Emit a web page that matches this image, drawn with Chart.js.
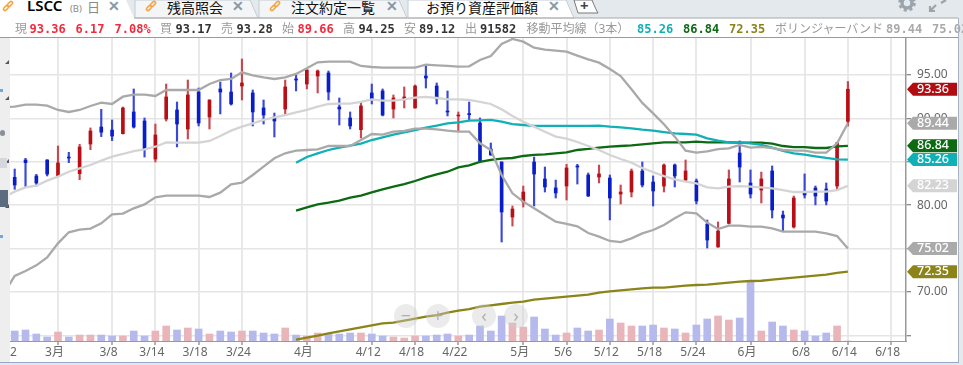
<!DOCTYPE html>
<html>
<head>
<meta charset="utf-8">
<script src="https://cdn.jsdelivr.net/npm/chart.js@4/dist/chart.umd.min.js"></script>
<style>
html, body { margin: 0; padding: 0; background: #e4e9ed; overflow: hidden; }
#wrap { position: relative; width: 963px; height: 365px; font-family: "Noto Sans", "Noto Sans CJK JP", sans-serif; }
#panel { position: absolute; left: 0; top: 18px; width: 958px; height: 344px; background: #fff; }
#edge { position: absolute; left: 958px; top: 18px; width: 1px; height: 345px; background: #a9b3c4; }
#foot { position: absolute; left: 0; top: 362px; width: 959px; height: 1px; background: #9aa6c4; }
canvas { position: absolute; left: 0; top: 0; }
#gutter { position: absolute; left: 0; top: 38px; width: 10px; height: 324px; background: #eee; overflow: hidden; }
#gutter i { position: absolute; left: 5px; width: 0; height: 0; border-left: 4px solid transparent; border-bottom: 4px solid #556; }
#gutter b { position: absolute; left: 0; }
#rule { position: absolute; left: 0; top: 37px; width: 958px; height: 1px; background: #9a9a9a; }
#head span { position: absolute; top: 21px; font-size: 12px; line-height: 16px; white-space: nowrap; color: #999; }
#head span.n { font-family: "DejaVu Sans Mono", monospace; font-weight: bold; }
#tabs span { position: absolute; top: -2px; font-size: 14px; line-height: 19px; color: #111; white-space: nowrap; }
#tabs span.x { color: #8a98a4; font-weight: bold; font-size: 14px; top: -4px; }
.round { position: absolute; top: 304px; width: 24px; height: 24px; border-radius: 12px; background: rgba(205,205,205,.4); color: rgba(170,170,170,.9); font-size: 18px; line-height: 23px; text-align: center; }
#left2 { position: absolute; left: 10px; top: 344px; font-size: 12px; line-height: 16px; color: #666; }
</style>
</head>
<body>
<div id="wrap">
  <div id="panel"></div>
  <svg style="position:absolute;left:0;top:0" width="963" height="19">
    <path d="M0 0H126L134 18H0Z" fill="#fff"/>
    <path d="M135 0H250L258 18H135Z" fill="#f3f5f7" stroke="#c4ccd3"/>
    <path d="M259 0H399L407 18H259Z" fill="#f3f5f7" stroke="#c4ccd3"/>
    <path d="M408 0H566L574 18H408Z" fill="#fff" stroke="#c4ccd3"/>
    <path d="M574 0H592Q596 10 598 13Q596 13 594 13H578Z" fill="#fff" stroke="#777"/>
    <path d="M0 18H134" stroke="#fff"/><path d="M134 18H958" stroke="#a8a8a8"/>
    <g fill="none" stroke="#f5a545" stroke-width="1.6">
      <rect x="-3" y="-1.5" width="6" height="3" rx="1.5" transform="translate(10 4) rotate(-45)"/>
      <rect x="-3" y="-1.5" width="6" height="3" rx="1.5" transform="translate(6 8) rotate(-45)"/>
      <rect x="-3" y="-1.5" width="6" height="3" rx="1.5" transform="translate(153 4) rotate(-45)"/>
      <rect x="-3" y="-1.5" width="6" height="3" rx="1.5" transform="translate(149 8) rotate(-45)"/>
      <rect x="-3" y="-1.5" width="6" height="3" rx="1.5" transform="translate(277 4) rotate(-45)"/>
      <rect x="-3" y="-1.5" width="6" height="3" rx="1.5" transform="translate(273 8) rotate(-45)"/>
    </g>
    <g stroke="#9aa4ac" fill="none">
      <circle cx="907" cy="3" r="5" stroke-width="3.4"/>
      <circle cx="907" cy="3" r="7.5" stroke-width="2.6" stroke-dasharray="3 3"/>
      <path d="M930 11L936 5M930 6V11H935M941 3L946 0" stroke-width="2.2"/>
    </g>
  </svg>
  <div id="tabs">
    <span style="left:27px;top:-4px;font-weight:600;font-size:15px;color:#000">LSCC</span>
    <span style="left:70px;top:-1px;font-size:9.5px;color:#8a8a8a">(B)</span>
    <span style="left:87px;color:#8a8a8a;font-size:13px">日</span>
    <span class="x" style="left:108px">✕</span>
    <span style="left:167px">残高照会</span><span class="x" style="left:232px">✕</span>
    <span style="left:291px">注文約定一覧</span><span class="x" style="left:386px">✕</span>
    <span style="left:426px">お預り資産評価額</span><span class="x" style="left:548px">✕</span>
    <span style="left:580px;top:-4px;font-weight:bold;font-size:15px;color:#444">+</span>
  </div>
  <canvas id="chart" width="963" height="365"></canvas>
  <div id="rule"></div>
  <div id="gutter">
    <i style="top:22px"></i><i style="top:58px"></i><i style="top:121px"></i><i style="top:166px"></i>
    <b style="top:51px;width:3px;height:3px;background:#6fa8dc"></b>
    <b style="top:92px;width:5px;height:6px;border-radius:3px;background:#8a9099"></b>
    <b style="top:120px;width:7px;height:10px;background:#d4d8dc"></b>
    <b style="top:152px;width:8px;height:17px;background:#5b6b80"></b>
    <b style="top:197px;width:3px;height:3px;background:#6fa8dc"></b>
  </div>
  <div id="left2">2</div>
  <div class="round" style="left:394px">−</div>
  <div class="round" style="left:426px">+</div>
  <div class="round" style="left:472px">‹</div>
  <div class="round" style="left:504px">›</div>
  <div id="head"></div>
  <div id="edge"></div>
  <div id="foot"></div>
</div>
<script>
// candles, one per trading day, oldest first
const opens = [83.21,85.21,83.37,85.21,83.40,85.55,83.63,87.05,89.01,88.66,88.24,90.74,89.70,85.32,89.93,90.97,88.78,93.04,90.16,93.39,93.04,93.73,92.93,91.20,90.16,91.08,94.54,93.96,94.88,95.23,91.31,90.05,88.70,92.93,93.16,91.08,92.24,91.20,94.88,93.73,90.85,90.28,90.55,89.47,86.48,84.98,78.64,80.37,84.98,83.02,81.99,82.21,84.52,83.48,83.25,83.13,81.29,81.52,83.94,82.67,82.21,84.63,82.90,82.79,77.83,75.19,77.91,86.01,82.56,81.75,83.94,78.87,77.49,81.41,81.98,81.87,82.21,89.66]
const highs = [84.17,85.40,83.56,85.25,86.82,86.09,87.01,88.90,91.04,89.82,91.31,93.39,90.05,89.35,93.96,91.89,94.42,93.50,92.15,94.19,95.23,96.84,93.27,92.12,90.62,94.42,95.00,95.60,95.58,95.46,92.35,90.74,91.77,93.96,93.39,92.70,93.62,93.85,96.15,94.08,93.16,90.74,91.89,90.05,87.17,85.00,79.91,82.21,85.55,84.40,82.90,84.71,84.71,83.71,84.63,83.48,82.33,84.17,84.98,83.37,84.75,84.75,85.21,83.02,78.30,78.07,84.06,87.40,84.06,83.82,84.52,79.33,81.06,83.60,82.21,82.56,87.25,94.25]
const lows = [81.83,82.06,82.21,83.37,83.37,84.90,82.94,86.40,87.90,87.44,88.20,88.89,85.55,84.98,89.70,86.71,87.63,89.13,88.78,90.51,91.54,92.12,89.13,89.35,87.86,90.51,93.16,93.39,92.93,92.12,89.24,88.78,87.74,91.66,90.28,90.05,91.20,91.18,93.50,91.66,90.28,88.55,89.82,85.05,85.75,75.76,77.60,79.79,79.91,81.52,80.83,80.60,82.44,81.00,82.56,78.30,80.14,80.95,82.10,79.91,81.52,82.10,82.79,80.14,75.07,75.15,77.83,82.67,80.83,80.25,78.53,77.03,77.37,80.83,80.04,80.04,81.75,89.12]
const closes = [82.33,84.90,82.56,83.59,84.87,85.44,86.71,88.55,88.41,87.97,91.20,89.01,86.51,88.09,92.47,89.35,92.70,89.47,92.12,93.04,91.66,94.08,90.74,90.39,89.70,93.62,94.42,95.58,95.46,93.04,91.08,89.13,91.43,92.12,90.39,92.35,92.47,93.73,94.65,92.24,90.74,90.39,90.43,85.09,85.79,79.22,79.56,81.52,83.59,82.10,81.41,84.29,84.40,81.06,83.60,80.83,81.52,83.94,82.33,81.64,84.63,83.37,83.94,80.48,75.99,77.03,83.02,84.40,81.29,83.02,79.45,78.53,80.83,81.18,81.06,80.48,87.19,93.36]
const volumes = [1000,1100,700,400,900,400,600,600,600,500,500,1000,500,1000,1500,1100,1300,1200,700,1000,900,1000,1000,800,700,1300,600,500,800,700,700,800,800,700,500,400,300,500,500,600,700,500,600,1500,1000,2500,1800,1400,2400,1200,600,800,1300,1000,1100,2200,1800,1500,1500,1600,1300,1200,800,1600,2200,2500,2100,2300,6000,1000,1900,1500,1100,1000,500,800,1500,0]

// bollinger bands, these start one day before the first candle
const upperBand = [91.30,91.35,91.58,91.58,91.47,90.97,90.74,90.97,91.43,91.81,91.66,92.50,92.73,92.73,92.58,93.27,93.27,93.27,93.27,93.96,94.42,94.54,95.31,94.96,94.73,94.54,94.73,95.12,95.77,96.46,96.54,96.54,96.54,96.04,95.92,95.84,95.84,95.84,95.84,96.19,96.11,96.04,95.96,96.00,96.73,97.19,98.57,99.15,98.84,98.15,97.92,97.80,97.69,97.23,96.80,96.42,95.69,94.88,93.35,91.78,90.58,89.32,87.90,86.28,86.05,86.21,86.47,86.55,86.94,86.63,86.71,86.59,86.36,86.28,86.28,86.05,86.05,87.13,89.44]
const midBand = [80.91,81.56,82.06,82.25,82.83,83.29,83.86,84.25,84.63,85.13,85.59,85.90,86.24,86.44,86.74,87.24,87.20,87.20,87.20,87.40,87.97,88.59,89.05,89.43,89.82,90.12,90.39,90.70,90.97,91.35,91.66,91.70,91.70,91.89,92.20,92.04,92.04,92.20,92.39,92.47,92.35,92.20,92.20,92.12,91.89,91.66,91.04,90.28,89.62,89.05,88.47,87.90,87.67,87.28,86.82,86.36,85.78,85.32,84.90,84.29,83.82,83.36,82.98,82.71,82.52,82.06,81.94,82.14,82.21,82.14,82.06,81.94,81.75,81.52,81.52,81.56,81.56,81.75,82.23]
const lowerBand = [69.85,71.85,72.42,73.07,73.99,75.61,76.88,77.18,77.30,77.91,78.95,79.03,79.64,80.10,80.91,81.10,81.10,81.10,81.10,80.95,81.45,82.41,82.60,83.48,84.44,85.40,85.98,86.28,86.36,86.44,86.82,86.82,86.82,87.51,88.20,88.13,88.47,88.55,88.82,88.82,88.74,88.59,88.47,88.47,87.13,86.36,83.48,81.37,80.41,79.64,78.87,78.10,77.84,77.57,76.80,76.38,75.88,75.76,76.18,76.76,77.14,77.72,78.49,79.18,79.06,77.99,77.26,77.64,77.64,77.53,77.53,77.34,76.95,76.95,76.95,76.95,76.76,76.45,75.02]

// moving averages, these start at candle 26
const maStart = 26
const maShort = [84.90,85.55,85.98,86.36,86.63,86.86,87.09,87.51,87.82,88.13,88.40,88.66,88.93,89.16,89.43,89.55,89.74,89.78,89.82,89.62,89.35,89.24,89.13,89.13,89.13,89.13,89.13,89.13,89.16,89.05,88.97,88.86,88.70,88.59,88.43,88.28,88.20,88.13,87.70,87.44,87.24,87.20,87.13,86.94,86.63,86.25,85.98,85.82,85.63,85.44,85.28,85.26]
const maMid = [79.37,79.76,80.10,80.29,80.52,80.87,81.10,81.48,81.83,82.14,82.44,82.79,83.21,83.56,83.86,84.36,84.59,84.98,85.21,85.36,85.44,85.67,85.79,85.86,85.98,86.09,86.36,86.48,86.63,86.74,86.82,86.90,87.01,87.13,87.24,87.24,87.24,87.32,87.24,87.24,87.24,87.20,87.20,87.20,87.09,86.82,86.70,86.70,86.59,86.59,86.78,86.84]
const maLong = [64.51,64.74,64.97,65.24,65.47,65.70,65.93,66.16,66.39,66.47,66.70,66.93,67.16,67.35,67.62,67.85,68.04,68.31,68.47,68.62,68.77,68.89,69.12,69.23,69.35,69.46,69.58,69.69,69.92,70.08,70.19,70.31,70.42,70.50,70.50,70.62,70.73,70.81,70.85,70.96,71.08,71.19,71.27,71.30,71.42,71.54,71.65,71.77,71.88,72.00,72.20,72.35]

// axes
const tickIndex = [4,9,13,17,21,27,33,37,41,47,51,55,59,63,68,73,77,81]
const tickNames = ["3月","3/8","3/14","3/18","3/24","4月","4/12","4/18","4/22","5月","5/6","5/12","5/18","5/24","6月","6/8","6/14","6/18"]
const priceTicks = [65,70,75,80,85,90,95]

// price tags on the right
const tagValues = [75.02,72.35,82.23,85.26,86.84,89.44,93.36]
const tagColors = ["#aaaaaa","#8c8418","#d4d4d4","#10b0b6","#0b6a12","#aaaaaa","#b00c12"]

const BLUE = "#0a1ec8", RED = "#b80e16"
const isUp = i => closes[i] >= opens[i]

const tagsPlugin = {
    id: "tags",
    afterDraw(chart) {
        const ctx = chart.ctx, y = chart.scales.y
        ctx.save()
        ctx.font = "500 12.5px 'Noto Sans'"
        ctx.textBaseline = "middle"
        tagValues.forEach((v, i) => {
            const py = y.getPixelForValue(v)
            ctx.fillStyle = tagColors[i]
            ctx.beginPath()
            ctx.moveTo(907, py)
            ctx.lineTo(913, py - 6.5)
            ctx.lineTo(957, py - 6.5)
            ctx.lineTo(957, py + 6.5)
            ctx.lineTo(913, py + 6.5)
            ctx.closePath()
            ctx.fill()
            ctx.fillStyle = "#fff"
            ctx.fillText(v.toFixed(2), 917, py)
        })
        ctx.restore()
    }
}

const lineSet = (data, start, color) => ({
    type: "line",
    data: data.map((v, i) => ({x: i + start, y: v})),
    borderColor: color,
    borderWidth: 2.3,
    pointRadius: 0,
    tension: 0,
    order: 1
})

new Chart(document.getElementById("chart").getContext("2d"), {
    type: "bar",
    data: {
        datasets: [
            {
                data: volumes.map((v, i) => ({x: i, y: v})),
                yAxisID: "vol",
                grouped: false,
                barThickness: 7,
                backgroundColor: volumes.map((v, i) => isUp(i) ? "#e8b6ba" : "#b5b9ec"),
                order: 5
            },
            {
                data: highs.map((h, i) => ({x: i, y: [lows[i], h]})),
                grouped: false,
                barThickness: 1.5,
                backgroundColor: highs.map((h, i) => isUp(i) ? "#c9484f" : "#3a48d8"),
                order: 4
            },
            {
                data: opens.map((o, i) => ({x: i, y: [o, closes[i]]})),
                grouped: false,
                barThickness: 3,
                backgroundColor: opens.map((o, i) => isUp(i) ? RED : BLUE),
                order: 3
            },
            lineSet(upperBand, -1, "#a9a9a9"),
            lineSet(midBand, -1, "#d4d4d4"),
            lineSet(lowerBand, -1, "#a9a9a9"),
            lineSet(maShort, maStart, "#10b0b6"),
            lineSet(maMid, maStart, "#0b6a12"),
            lineSet(maLong, maStart, "#8c8418")
        ]
    },
    options: {
        responsive: false,
        animation: false,
        layout: {padding: {left: 10, top: 38, right: 5, bottom: 3}},
        plugins: {legend: {display: false}, tooltip: {enabled: false}},
        scales: {
            x: {
                type: "linear",
                offset: false,
                min: -0.434,
                max: 82.37,
                afterBuildTicks: axis => { axis.ticks = tickIndex.map(v => ({value: v})) },
                afterFit: axis => { axis.height = 21 },
                grid: {offset: false, color: "#e9e9e9", lineWidth: 2, tickColor: "#666", tickLength: 4, tickWidth: 1},
                border: {color: "#999", width: 1},
                ticks: {
                    autoSkip: false,
                    maxRotation: 0,
                    labelOffset: -3.5,
                    padding: 0,
                    color: "#666",
                    font: {family: "'Noto Sans', 'Noto Sans CJK JP'", size: 12},
                    callback: (value, i) => tickNames[i]
                }
            },
            y: {
                position: "right",
                min: 64.36,
                max: 99.26,
                afterBuildTicks: axis => { axis.ticks = priceTicks.map(v => ({value: v})) },
                afterFit: axis => { axis.width = 52 },
                grid: {color: "#e5e5e5", lineWidth: 1.5, tickColor: "#666", tickLength: 5, tickWidth: 1},
                border: {color: "#999", width: 1.5},
                ticks: {
                    padding: 6,
                    color: "#666",
                    font: {family: "'Noto Sans'", size: 12},
                    callback: v => v === 65 ? "" : v.toFixed(2)
                }
            },
            vol: {display: false, min: 0, max: 30300}
        }
    },
    plugins: [tagsPlugin]
})

// quote row above the chart
const quoteText = ["現","93.36","6.17","7.08%","買","93.17","売","93.28","始","89.66","高","94.25","安","89.12","出","91582","移動平均線（3本）","85.26","86.84","72.35","ボリンジャーバンド","89.44","75.02"]
const quoteLeft = [15,29.5,75.5,114.5,160,175.5,221,236.5,282,297.5,343,358.5,404,419,465,480,526.5,637,683,729,775,886,932]
const quoteColor = ["#999","#f22a3c","#f22a3c","#f22a3c","#999","#333","#999","#333","#999","#f22a3c","#999","#333","#999","#333","#999","#333","#999","#10b0b6","#0b6a12","#8c8418","#999","#aaa","#aaa"]
const head = document.getElementById("head")
quoteText.forEach((t, i) => {
    const s = document.createElement("span")
    s.textContent = t
    s.style.left = quoteLeft[i] + "px"
    s.style.color = quoteColor[i]
    if (/^[0-9.%]+$/.test(t)) s.className = "n"
    head.appendChild(s)
})
</script>
</body>
</html>
